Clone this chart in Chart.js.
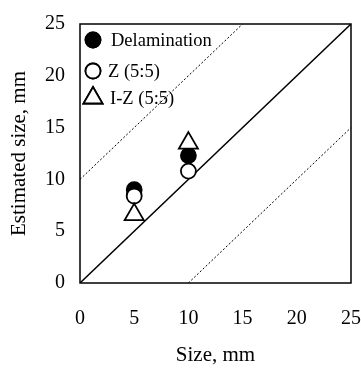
<!DOCTYPE html>
<html>
<head>
<meta charset="utf-8">
<script src="https://cdn.jsdelivr.net/npm/chart.js@4"></script>
<style>
  html, body { margin: 0; padding: 0; background: #fff; }
  #wrap { width: 361px; height: 368px; }
</style>
</head>
<body>
<div id="wrap"><canvas id="myChart" width="361" height="368"></canvas></div>
<script>
const sizes = [5, 10];
const delamination = [9.0, 12.3];
const z55 = [8.4, 10.8];
const iz55 = [6.6, 13.5];
const axisTicks = [0, 5, 10, 15, 20, 25];

const seriesLabels = ["Delamination", "Z (5:5)", "I-Z (5:5)"];

const serif = "'Liberation Serif', 'Times New Roman', serif";

function toPoints(xs, ys) {
  return xs.map((x, i) => ({ x: x, y: ys[i] }));
}

// frame round the plot area + legend in the upper left corner
const framePlugin = {
  id: "frame",
  afterDatasetsDraw(chart) {
    const { ctx, chartArea } = chart;
    ctx.save();
    ctx.strokeStyle = "#000";
    ctx.lineWidth = 1.5;
    ctx.strokeRect(chartArea.left, chartArea.top, chartArea.right - chartArea.left, chartArea.bottom - chartArea.top);

    const rows = [
      { style: "circle", fill: "#000", r: 7.5, y: 40, tx: 111 },
      { style: "circle", fill: "#fff", r: 7.5, y: 71, tx: 108 },
      { style: "triangle", fill: "#fff", r: 11, y: 98, tx: 110 },
    ];
    ctx.font = "18.5px " + serif;
    ctx.textBaseline = "middle";
    rows.forEach((row, i) => {
      ctx.fillStyle = row.fill;
      ctx.strokeStyle = "#000";
      ctx.lineWidth = 1.8;
      Chart.helpers.drawPoint(ctx, { pointStyle: row.style, radius: row.r, borderWidth: 1.8 }, 93, row.y);
      ctx.fill();
      ctx.stroke();
      ctx.fillStyle = "#000";
      ctx.fillText(seriesLabels[i], row.tx, row.y + 1);
    });
    ctx.restore();
  },
};

const ctx = document.getElementById("myChart").getContext("2d");

new Chart(ctx, {
  type: "scatter",
  data: {
    datasets: [
      {
        label: seriesLabels[2],
        data: toPoints(sizes, iz55),
        pointStyle: "triangle",
        pointRadius: 11,
        backgroundColor: "#fff",
        borderColor: "#000",
        borderWidth: 1.8,
        order: 1,
      },
      {
        label: seriesLabels[1],
        data: toPoints(sizes, z55),
        pointStyle: "circle",
        pointRadius: 7.5,
        backgroundColor: "#fff",
        borderColor: "#000",
        borderWidth: 1.8,
        order: 2,
      },
      {
        label: seriesLabels[0],
        data: toPoints(sizes, delamination),
        pointStyle: "circle",
        pointRadius: 7.5,
        backgroundColor: "#000",
        borderColor: "#000",
        borderWidth: 1.8,
        order: 3,
      },
      {
        label: "1:1",
        data: [{ x: 0, y: 0 }, { x: 25, y: 25 }],
        showLine: true,
        pointRadius: 0,
        borderColor: "#000",
        borderWidth: 1.5,
        order: 4,
      },
      {
        label: "+10",
        data: [{ x: 0, y: 10 }, { x: 15, y: 25 }],
        showLine: true,
        pointRadius: 0,
        borderColor: "#000",
        borderWidth: 1,
        borderDash: [2, 2],
        order: 5,
      },
      {
        label: "-10",
        data: [{ x: 10, y: 0 }, { x: 25, y: 15 }],
        showLine: true,
        pointRadius: 0,
        borderColor: "#000",
        borderWidth: 1,
        borderDash: [2, 2],
        order: 6,
      },
    ],
  },
  options: {
    responsive: false,
    animation: false,
    layout: { autoPadding: false, padding: { top: 24, right: 10, bottom: 0, left: 0 } },
    plugins: {
      legend: { display: false },
      tooltip: { enabled: false },
    },
    scales: {
      x: {
        type: "linear",
        min: 0,
        max: 25,
        afterBuildTicks: (axis) => { axis.ticks = axisTicks.map((v) => ({ value: v })); },
        afterFit: (axis) => {
          axis.height = 85;
          axis.paddingLeft = 0;
          axis.paddingRight = 0;
        },
        grid: { display: false, drawTicks: false },
        border: { display: false },
        ticks: { padding: 24, color: "#000", font: { family: serif, size: 20 } },
        title: {
          display: true,
          text: "Size, mm",
          color: "#000",
          font: { family: serif, size: 21 },
          padding: { top: 13, bottom: 0 },
        },
      },
      y: {
        type: "linear",
        min: 0,
        max: 25,
        afterBuildTicks: (axis) => { axis.ticks = axisTicks.map((v) => ({ value: v })); },
        afterFit: (axis) => {
          axis.width = 80;
          axis.paddingTop = 0;
          axis.paddingBottom = 0;
        },
        grid: { display: false, drawTicks: false },
        border: { display: false },
        ticks: { padding: 15, color: "#000", font: { family: serif, size: 20 } },
        title: {
          display: true,
          text: "Estimated size, mm",
          color: "#000",
          font: { family: serif, size: 21 },
          padding: { top: 7, bottom: 0 },
        },
      },
    },
  },
  plugins: [framePlugin],
});
</script>
</body>
</html>
